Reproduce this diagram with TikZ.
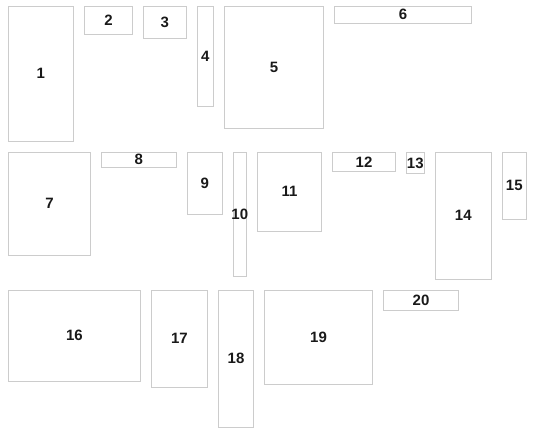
\documentclass[tikz,border=0pt]{standalone}
\usepackage{fontspec}
\setmainfont{Liberation Sans}
\begin{document}
\begin{tikzpicture}[x=1pt,y=-1pt,
  box/.style={draw=black!20, line width=1pt, inner sep=0pt},
  lbl/.style={inner sep=0pt, font=\fontsize{15}{15}\selectfont\bfseries, text=black!90},
]
\useasboundingbox (0,0) rectangle (549,436);
\newcommand\bx[6]{\node[box, minimum width={(#4-#2)*1pt}, minimum height={(#5-#3)*1pt}] (#1) at ({(#2+#4)/2},{(#3+#5)/2}) {};
  \node[lbl] (#1l) at (#1.center) {#6};}
\bx{b1}{8.3}{6.3}{73.3}{141.3}{1}
\bx{b2}{84.3}{6.3}{132.7}{35}{2}
\bx{b3}{143.3}{6.3}{186.3}{38.3}{3}
\bx{b4}{197.3}{6.3}{213.3}{106.3}{4}
\bx{b5}{224.3}{6.3}{323.7}{128.3}{5}
\bx{b6}{334.3}{6.3}{471.7}{23.3}{6}
\bx{b7}{8.3}{152.3}{90.7}{255.3}{7}
\bx{b8}{101.3}{152.3}{176.3}{167.3}{8}
\bx{b9}{187.3}{152.3}{222.3}{214.3}{9}
\bx{b10}{233.3}{152.3}{246.3}{276.3}{10}
\bx{b11}{257.3}{152.3}{321.7}{231.3}{11}
\bx{b12}{332.3}{152.3}{395.7}{171.3}{12}
\bx{b13}{406.3}{152.3}{424.3}{173.7}{13}
\bx{b14}{435.3}{152.3}{491.3}{279.3}{14}
\bx{b15}{502.3}{152.3}{526.3}{219.3}{15}
\bx{b16}{8.3}{290.3}{140.7}{381.3}{16}
\bx{b17}{151.3}{290.3}{207.7}{387.3}{17}
\bx{b18}{218.3}{290.3}{253.7}{427.3}{18}
\bx{b19}{264.3}{290.3}{372.7}{384.3}{19}
\bx{b20}{383.3}{290.3}{458.7}{310.7}{20}
\end{tikzpicture}
\end{document}
